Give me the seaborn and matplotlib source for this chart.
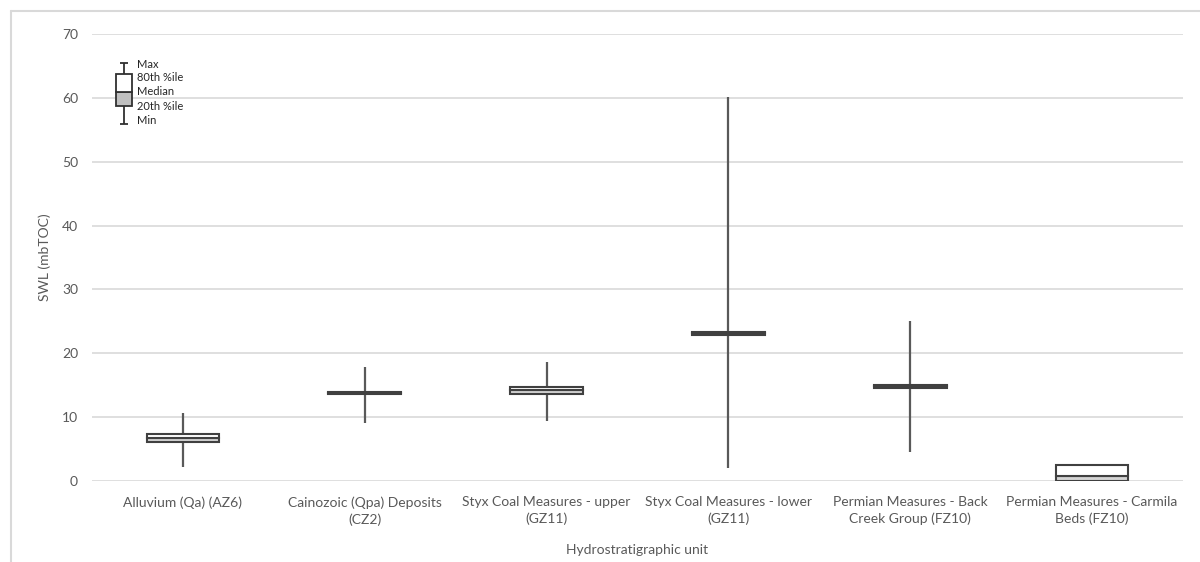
import matplotlib
matplotlib.use("Agg")
import matplotlib.pyplot as plt
import seaborn as sns
import pandas as pd
from matplotlib.lines import Line2D

# ---- data ----
units = ["Alluvium (Qa) (AZ6)",
         "Cainozoic (Qpa) Deposits\n(CZ2)",
         "Styx Coal Measures - upper\n(GZ11)",
         "Styx Coal Measures - lower\n(GZ11)",
         "Permian Measures - Back\nCreek Group (FZ10)",
         "Permian Measures - Carmila\nBeds (FZ10)"]
swl_min = [2.2, 9.1, 9.4, 2.0, 4.6, 0.0]
swl_p20 = [6.1, 13.7, 13.7, 22.9, 14.6, 0.0]
swl_median = [6.7, 13.85, 14.2, 23.1, 14.8, 0.8]
swl_p80 = [7.3, 14.0, 14.75, 23.3, 15.0, 2.5]
swl_max = [10.6, 17.9, 18.7, 60.1, 25.0, 2.5]

legend_labels = ["Max", "80th %ile", "Median", "20th %ile", "Min"]
legend_values = [65.5, 63.7, 60.9, 58.8, 55.9]

df = pd.DataFrame({"unit": units, "min": swl_min, "p20": swl_p20,
                   "median": swl_median, "p80": swl_p80, "max": swl_max})
df["lower"] = df["median"] - df["p20"]
df["upper"] = df["p80"] - df["median"]

sns.set_theme(style="white")
plt.rcParams["font.family"] = ["Lato", "DejaVu Sans"]

fig = plt.figure(figsize=(12, 5.62), dpi=100)
ax = fig.add_axes([92/1200, 1-481/562, (1183-92)/1200, (481-34)/562])

edge = "#404040"
whisk = "#595959"
grid = "#d9d9d9"
txt = "#595959"

# whiskers
ax.vlines(range(len(units)), df["min"], df["max"], color=whisk, lw=1.6, zorder=2)

# lower box segment (20th -> median)
n0 = len(ax.patches)
sns.barplot(data=df, x="unit", y="lower", color="#d4d4d4", width=0.4,
            edgecolor=edge, linewidth=1.5, saturation=1, ax=ax, zorder=3)
for p, b in zip(ax.patches[n0:], df["p20"]):
    p.set_y(b)
# upper box segment (median -> 80th)
n1 = len(ax.patches)
sns.barplot(data=df, x="unit", y="upper", color="white", width=0.4,
            edgecolor=edge, linewidth=1.5, saturation=1, ax=ax, zorder=3)
for p, b in zip(ax.patches[n1:], df["median"]):
    p.set_y(b)

ax.set_ylim(0, 70)
ax.set_yticks(range(0, 71, 10))
ax.yaxis.grid(True, color=grid, lw=1.2)
ax.set_axisbelow(True)
for s in ax.spines.values():
    s.set_visible(False)
ax.tick_params(axis="both", length=0, colors=txt, labelsize=10)
ax.tick_params(axis="y", pad=10)
ax.tick_params(axis="x", pad=11)
for t in ax.get_xticklabels():
    t.set_linespacing(1.4)
ax.set_xlabel("Hydrostratigraphic unit", color=txt, fontsize=10, labelpad=13)
ax.set_ylabel("SWL (mbTOC)", color=txt, fontsize=10, labelpad=8)

# legend glyph (explanatory box)
lx = -0.324
bw = 0.087
ax.vlines(lx, legend_values[4], legend_values[0], color="#303030", lw=1.3, zorder=4)
ax.hlines([legend_values[0], legend_values[4]], lx - 0.022, lx + 0.022, color="#303030", lw=1.3, zorder=4)
ax.bar([lx], [legend_values[2] - legend_values[3]], bottom=[legend_values[3]], width=bw,
       color="#c0c0c0", edgecolor="#303030", lw=1.3, zorder=5)
ax.bar([lx], [legend_values[1] - legend_values[2]], bottom=[legend_values[2]], width=bw,
       color="white", edgecolor="#303030", lw=1.3, zorder=5)
label_y = [65.3, 63.2, 61.0, 58.6, 56.4]
for lab, yv in zip(legend_labels, label_y):
    ax.text(lx + 0.07, yv, lab, fontsize=8, color="#262626", va="center", ha="left")
ax.set_xlim(-0.5, len(units) - 0.5)

# chart frame (partially cropped)
fig.add_artist(Line2D([11/1200, 11/1200], [0, 1-11/562], color=grid, lw=1.5))
fig.add_artist(Line2D([11/1200, 1], [1-11/562, 1-11/562], color=grid, lw=1.5))

fig.savefig("out.png", dpi=100)
